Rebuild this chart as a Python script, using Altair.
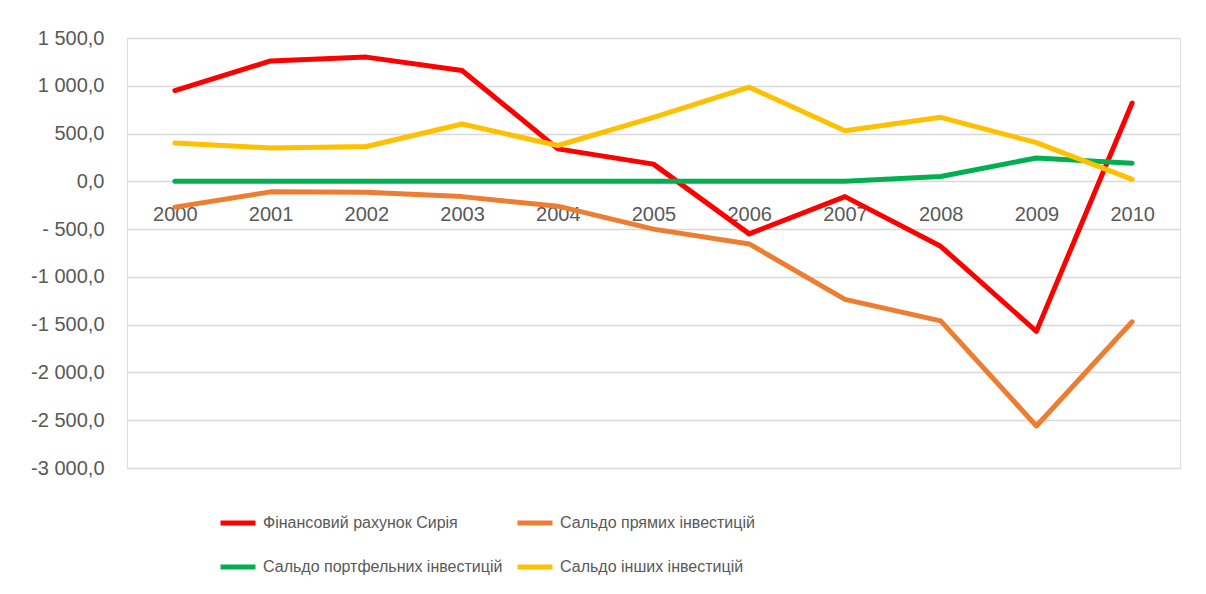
import altair as alt
import pandas as pd

# ---- data ----
years = ["2000", "2001", "2002", "2003", "2004", "2005", "2006", "2007", "2008", "2009", "2010"]
financial_account = [950, 1260, 1300, 1160, 340, 180, -550, -160, -680, -1570, 820]
direct_investment = [-270, -110, -115, -160, -260, -500, -655, -1235, -1460, -2560, -1470]
portfolio_investment = [0, 0, 0, 0, 0, 0, 0, 0, 50, 245, 190]
other_investment = [400, 350, 365, 600, 375, 670, 985, 530, 670, 405, 20]

series_names = [
    "Фінансовий рахунок Сирія",
    "Сальдо прямих інвестицій",
    "Сальдо портфельних інвестицій",
    "Сальдо інших інвестицій",
]
series_colors = ["#FF0000", "#ED7D31", "#00B050", "#FFC000"]

y_ticks = [1500, 1000, 500, 0, -500, -1000, -1500, -2000, -2500, -3000]
y_tick_labels = ["1 500,0", "1 000,0", "500,0", "0,0", "- 500,0", "-1 000,0",
                 "-1 500,0", "-2 000,0", "-2 500,0", "-3 000,0"]

# ---- long table ----
rows = []
for idx, (name, vals) in enumerate(zip(series_names,
                                       [financial_account, direct_investment,
                                        portfolio_investment, other_investment])):
    for yr, v in zip(years, vals):
        rows.append({"year": yr, "value": v, "series": name, "order": idx})
df = pd.DataFrame(rows)

# label expression built from the tick label list
label_expr = "''"
for t, lab in zip(reversed(y_ticks), reversed(y_tick_labels)):
    label_expr = f"datum.value == {t} ? '{lab}' : ({label_expr})"

W, H = 1053, 430
zero_from_bottom = H * (0 - (-3000)) / 4500.0

chart = (
    alt.Chart(df)
    .mark_line(strokeWidth=5, strokeCap="round", strokeJoin="round")
    .encode(
        x=alt.X(
            "year:N",
            sort=years,
            scale=alt.Scale(type="point", padding=0.5),
            axis=alt.Axis(
                title=None,
                orient="bottom",
                offset=-zero_from_bottom,
                domain=False,
                ticks=False,
                grid=False,
                labelAngle=0,
                labelPadding=23,
                labelFont="Liberation Sans",
                labelFontSize=20,
                labelColor="#595959",
            ),
        ),
        y=alt.Y(
            "value:Q",
            scale=alt.Scale(domain=[-3000, 1500], nice=False, zero=False),
            axis=alt.Axis(
                title=None,
                values=y_ticks,
                labelExpr=label_expr,
                domain=False,
                ticks=False,
                grid=True,
                gridColor="#D9D9D9",
                gridWidth=1.3,
                labelPadding=23,
                labelFont="Liberation Sans",
                labelFontSize=20,
                labelColor="#595959",
            ),
        ),
        color=alt.Color(
            "series:N",
            scale=alt.Scale(domain=series_names, range=series_colors),
            legend=alt.Legend(
                title=None,
                orient="none",
                legendX=91,
                legendY=465,
                columns=2,
                direction="horizontal",
                symbolType="stroke",
                symbolSize=1225,
                symbolStrokeWidth=5,
                labelOffset=5,
                labelFont="Liberation Sans",
                labelFontSize=16,
                labelColor="#595959",
                labelLimit=400,
                columnPadding=4,
                rowPadding=14,
                padding=0,
            ),
        ),
        order=alt.Order("order:Q"),
        detail="series:N",
    )
    .properties(
        width=W,
        height=H,
        autosize=alt.AutoSizeParams(type="none"),
        padding={"left": 119, "top": 30, "right": 18, "bottom": 118},
    )
    .configure_view(stroke=None)
    .configure(background="white")
)

chart.save("out.html", embed_options={"renderer": "svg", "actions": False})
